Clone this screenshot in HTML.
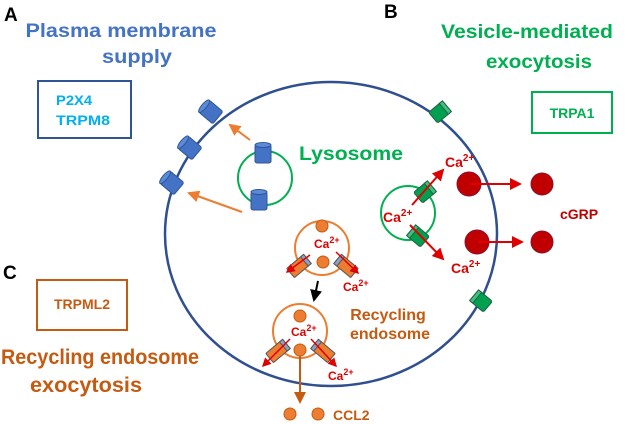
<!DOCTYPE html>
<html><head><meta charset="utf-8"><style>body{margin:0;background:#fff}svg{display:block}text{font-family:"Liberation Sans",sans-serif;font-weight:bold}</style></head><body>
<svg width="635" height="424" viewBox="0 0 635 424">
<defs>
<marker id="ao" markerWidth="6" markerHeight="6" refX="5" refY="3" orient="auto"><path d="M0,0 L6,3 L0,6z" fill="#ED7D31"/></marker>
<marker id="ar" markerWidth="6" markerHeight="6" refX="5" refY="3" orient="auto"><path d="M0,0 L6,3 L0,6z" fill="#E00000"/></marker>
<marker id="ab" markerWidth="6" markerHeight="6" refX="5" refY="3" orient="auto"><path d="M0,0 L6,3 L0,6z" fill="#000"/></marker>
<marker id="ad" markerWidth="6" markerHeight="6" refX="5" refY="3" orient="auto"><path d="M0,0 L6,3 L0,6z" fill="#C55A11"/></marker>
<g id="cb"><rect x="-8" y="-9" width="16" height="18" rx="2" fill="#4472C4" stroke="#2F5597" stroke-width="1"/><ellipse cx="0" cy="-9" rx="8" ry="2.5" fill="#5B8BD8" stroke="#2F5597" stroke-width="1"/></g>
<g id="cg"><rect x="-7" y="-9" width="14" height="18" rx="2" fill="#00A050" stroke="#1F5F3F" stroke-width="1"/><rect x="-7" y="-9" width="14" height="4" fill="#40C080" stroke="#1F5F3F" stroke-width="1"/></g>
<g id="co"><rect x="-6" y="-11" width="12" height="22" rx="1" fill="#ED7D31" stroke="#555" stroke-width="1"/><rect x="-6" y="-11" width="12" height="4" fill="#8FA0C0" stroke="#555" stroke-width="1"/></g>
</defs>
<ellipse cx="331" cy="234" rx="166" ry="152" fill="none" stroke="#2F4F8F" stroke-width="2.5"/>
<!-- A -->
<text x="4" y="21" font-size="19" fill="#000">A</text>
<text x="121" y="37" font-size="19" fill="#4472C4" text-anchor="middle" textLength="191" lengthAdjust="spacingAndGlyphs">Plasma membrane</text>
<text x="137" y="63" font-size="19" fill="#4472C4" text-anchor="middle" textLength="70" lengthAdjust="spacingAndGlyphs">supply</text>
<rect x="38" y="81" width="93" height="57" fill="none" stroke="#2F5597" stroke-width="2"/>
<text x="56" y="105" font-size="14" fill="#00B0F0" textLength="36" lengthAdjust="spacingAndGlyphs">P2X4</text>
<text x="56" y="125" font-size="14" fill="#00B0F0" textLength="54" lengthAdjust="spacingAndGlyphs">TRPM8</text>
<!-- B -->
<text x="384" y="18" font-size="19" fill="#000">B</text>
<text x="527" y="38" font-size="19" fill="#00B050" text-anchor="middle" textLength="172" lengthAdjust="spacingAndGlyphs">Vesicle-mediated</text>
<text x="539" y="68" font-size="19" fill="#00B050" text-anchor="middle" textLength="106" lengthAdjust="spacingAndGlyphs">exocytosis</text>
<rect x="532" y="92" width="80" height="41" fill="none" stroke="#00B050" stroke-width="2"/>
<text x="572" y="118" font-size="14" fill="#00B050" text-anchor="middle">TRPA1</text>
<!-- C -->
<text x="3" y="279" font-size="19" fill="#000">C</text>
<rect x="37" y="280" width="90" height="50" fill="none" stroke="#C55A11" stroke-width="2"/>
<text x="82" y="309" font-size="14" fill="#C55A11" text-anchor="middle">TRPML2</text>
<text x="1" y="364" font-size="21" fill="#C55A11" textLength="198" lengthAdjust="spacingAndGlyphs">Recycling endosome</text>
<text x="86" y="392" font-size="21" fill="#C55A11" text-anchor="middle" textLength="112" lengthAdjust="spacingAndGlyphs">exocytosis</text>
<!-- Lysosome left -->
<circle cx="265" cy="178" r="27" fill="none" stroke="#00B050" stroke-width="2"/>
<use href="#cb" x="263" y="154"/>
<use href="#cb" x="259" y="201"/>
<use href="#cb" transform="translate(211,112) rotate(-50)"/>
<use href="#cb" transform="translate(190,148) rotate(-50)"/>
<use href="#cb" transform="translate(172,183) rotate(-50)"/>
<line x1="250" y1="140" x2="230" y2="125" stroke="#ED7D31" stroke-width="2" marker-end="url(#ao)"/>
<line x1="242" y1="212" x2="189" y2="193" stroke="#ED7D31" stroke-width="2" marker-end="url(#ao)"/>
<text x="299" y="160" font-size="19" fill="#00B050" textLength="104" lengthAdjust="spacingAndGlyphs">Lysosome</text>
<!-- Lysosome right -->
<circle cx="408" cy="213" r="27" fill="none" stroke="#00B050" stroke-width="2"/>
<use href="#cg" transform="translate(425,192) rotate(50)"/>
<use href="#cg" transform="translate(418,236) rotate(-50)"/>
<use href="#cg" transform="translate(440,112) rotate(50)"/>
<use href="#cg" transform="translate(481,301) rotate(-50)"/>
<line x1="412" y1="205" x2="443" y2="170" stroke="#E00000" stroke-width="2" marker-end="url(#ar)"/>
<line x1="410" y1="225" x2="443" y2="259" stroke="#E00000" stroke-width="2" marker-end="url(#ar)"/>
<text x="445" y="167" font-size="14" fill="#E00000">Ca<tspan dy="-6" font-size="10">2+</tspan></text>
<text x="383" y="222" font-size="14" fill="#E00000">Ca<tspan dy="-6" font-size="10">2+</tspan></text>
<text x="451" y="273" font-size="14" fill="#E00000">Ca<tspan dy="-6" font-size="10">2+</tspan></text>
<circle cx="469" cy="184" r="12" fill="#C00000" stroke="#8B1030"/>
<circle cx="477" cy="242" r="12" fill="#C00000" stroke="#8B1030"/>
<circle cx="542" cy="184" r="11" fill="#C00000" stroke="#8B1030"/>
<circle cx="542" cy="242" r="11" fill="#C00000" stroke="#8B1030"/>
<line x1="470" y1="184" x2="520" y2="184" stroke="#E00000" stroke-width="2" marker-end="url(#ar)"/>
<line x1="478" y1="242" x2="522" y2="242" stroke="#E00000" stroke-width="2" marker-end="url(#ar)"/>
<text x="560" y="219" font-size="14" fill="#C00000">cGRP</text>
<!-- Recycling endosome top -->
<circle cx="322" cy="248" r="27" fill="none" stroke="#ED7D31" stroke-width="2"/>
<circle cx="322" cy="226" r="6" fill="#ED7D31" stroke="#C55A11"/>
<circle cx="323" cy="262" r="6" fill="#ED7D31" stroke="#C55A11"/>
<use href="#co" transform="translate(299,266) rotate(50)"/>
<use href="#co" transform="translate(346,266) rotate(-50)"/>
<line x1="310" y1="255" x2="287" y2="272" stroke="#E00000" stroke-width="1.5" marker-end="url(#ar)"/>
<line x1="336" y1="252" x2="358" y2="273" stroke="#E00000" stroke-width="1.5" marker-end="url(#ar)"/>
<text x="314" y="248" font-size="12" fill="#E00000" font-weight="normal">Ca<tspan dy="-5" font-size="9">2+</tspan></text>
<text x="343" y="291" font-size="12" fill="#E00000" font-weight="normal">Ca<tspan dy="-5" font-size="9">2+</tspan></text>
<line x1="318" y1="281" x2="314" y2="300" stroke="#000" stroke-width="2" marker-end="url(#ab)"/>
<text x="388" y="320" font-size="16" fill="#C55A11" text-anchor="middle">Recycling</text>
<text x="390" y="339" font-size="16" fill="#C55A11" text-anchor="middle">endosome</text>
<!-- Recycling endosome bottom -->
<circle cx="300" cy="331" r="27" fill="none" stroke="#ED7D31" stroke-width="2"/>
<circle cx="300" cy="316" r="6" fill="#ED7D31" stroke="#C55A11"/>
<circle cx="300" cy="350" r="6" fill="#ED7D31" stroke="#C55A11"/>
<use href="#co" transform="translate(278,351) rotate(50)"/>
<use href="#co" transform="translate(323,351) rotate(-50)"/>
<line x1="290" y1="339" x2="263" y2="366" stroke="#E00000" stroke-width="1.5" marker-end="url(#ar)"/>
<line x1="311" y1="339" x2="336" y2="366" stroke="#E00000" stroke-width="1.5" marker-end="url(#ar)"/>
<text x="291" y="336" font-size="12" fill="#E00000" font-weight="normal">Ca<tspan dy="-5" font-size="9">2+</tspan></text>
<text x="328" y="380" font-size="12" fill="#E00000" font-weight="normal">Ca<tspan dy="-5" font-size="9">2+</tspan></text>
<line x1="300" y1="356" x2="300" y2="402" stroke="#C55A11" stroke-width="2" marker-end="url(#ad)"/>
<circle cx="290" cy="414" r="6" fill="#ED7D31" stroke="#C55A11"/>
<circle cx="318" cy="414" r="6" fill="#ED7D31" stroke="#C55A11"/>
<text x="333" y="420" font-size="14" fill="#C55A11">CCL2</text>
</svg>
</body></html>
